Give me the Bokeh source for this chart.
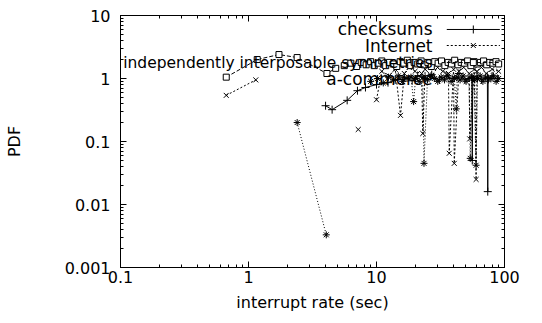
import math
from bokeh.plotting import figure
from bokeh.models import LogAxis, FixedTicker, CustomJSTickFormatter, Label
from bokeh.embed import file_html
from bokeh.resources import INLINE

nan = float("nan")

# ---- data ----
checksums_x = [4.0, 4.5, 5.9, 7.1, 8.2, 10.0, 12.3, 14.0, 16.5, 19.0, 21.0, 24.0, 27.0, 31.0,
               35.0, 39.0, 44.0, 49.0, 55.5, 56.0, 56.5, 61.0, 66.0, 73.5, 74.0, 74.5, 80.0, 88.0]
checksums_y = [0.37, 0.32, 0.45, 0.64, 0.72, 0.80, 0.86, 0.95, 1.05, 0.92, 1.1, 1.0, 1.15, 0.95,
               1.1, 1.0, 1.2, 0.95, 1.05, 0.05, 1.0, 1.1, 0.95, 1.05, 0.016, 1.0, 1.1, 1.0]

internet_x = [0.67, 1.14, nan, 7.2, nan, 10.0, 11.0, 12.5, 14.0, 15.4, 16.5, 18.0, 20.0, 22.5,
              23.0, 24.0, 27.0, 30.0, 33.0, 36.5, 37.0, 40.0, 40.5, 44.0, 48.0, 53.0, 53.5,
              58.0, 60.0, 61.0, 66.0, 72.0, 80.0, 90.0]
internet_y = [0.54, 0.95, nan, 0.155, nan, 0.46, 1.3, 1.1, 1.4, 0.26, 1.2, 1.5, 1.3, 1.2,
              0.134, 1.4, 1.1, 1.5, 1.3, 1.2, 0.065, 1.4, 0.045, 1.3, 1.5, 1.2, 0.11,
              1.4, 0.025, 1.3, 1.5, 1.2, 1.4, 1.3]

symmetries_x = [0.67, 1.17, 1.73, 2.4, 4.1, 4.8, 5.6, 6.3, 7.0, 7.6, 8.3, 9.0, 9.6, 10.3, 11.0,
                11.8, 12.6, 13.5, 14.4, 15.3, 16.3, 17.4, 18.5, 19.7, 21.0, 22.3, 23.7, 25.2,
                26.8, 28.5, 30.3, 32.2, 34.2, 36.3, 38.5, 40.8, 43.3, 45.9, 48.6, 51.5, 54.6,
                57.8, 61.2, 64.8, 68.6, 72.6, 76.8, 81.2, 85.8, 90.0]
symmetries_y = [1.05, 2.0, 2.4, 2.15, 1.2, 1.45, 1.6, 1.75, 1.55, 1.8, 1.65, 1.85, 1.6, 1.75, 1.9,
                1.6, 1.8, 1.7, 1.55, 1.85, 1.75, 1.95, 1.6, 1.8, 1.7, 1.9, 1.65, 1.8,
                1.55, 1.85, 1.75, 1.9, 1.6, 1.8, 1.7, 1.95, 1.65, 1.8, 1.75, 1.9, 1.6,
                1.85, 1.7, 1.8, 1.9, 1.65, 1.8, 1.75, 1.85, 1.7]

acommerce_x = [2.4, 4.05, nan, 9.0, 10.2, 11.3, 12.4, 13.6, 14.8, 16.0, 17.3, 18.6, 19.5, 20.2,
               21.6, 23.0, 23.5, 25.0, 26.6, 28.3, 30.1, 32.0, 34.0, 36.1, 38.3, 40.6, 42.0,
               42.6, 45.0, 47.5, 50.1, 52.8, 54.0, 55.6, 58.5, 60.0, 61.5, 64.6, 67.8, 71.2,
               74.7, 78.3, 82.0, 86.0, 90.0]
acommerce_y = [0.2, 0.0033, nan, 0.9, 1.0, 0.85, 1.05, 0.95, 1.1, 0.9, 1.0, 1.05, 0.43, 1.0,
               0.9, 1.05, 0.045, 0.95, 1.1, 1.0, 0.9, 1.05, 0.95, 1.1, 0.9, 1.0, 0.33,
               1.05, 0.95, 1.1, 0.9, 1.0, 0.054, 1.05, 0.95, 0.042, 1.0, 1.1, 0.9, 1.05,
               0.95, 1.0, 1.1, 0.9, 1.0]

series_names = ["checksums", "Internet", "independently interposable symmetries", "a-commerce"]
x_major = [0.1, 1, 10, 100]
y_major = [0.001, 0.01, 0.1, 1, 10]

FONT = "DejaVu Sans"
FS = "16px"
KEY_FS = "17px"
KEY_FS_LONG = "15.5px"   # keeps the long entry inside the frame (annotations are clipped to it)

def minors(majors):
    out = []
    for m in majors[:-1]:
        out += [m * k for k in range(2, 10)]
    return out

p = figure(width=542, height=323, x_axis_type="log", y_axis_type="log",
           x_range=(0.1, 100), y_range=(0.001, 10),
           output_backend="svg", toolbar_location=None,
           min_border_left=120, min_border_right=38, min_border_top=15, min_border_bottom=56)
p.grid.visible = False
p.outline_line_color = "black"
p.background_fill_color = "white"
p.border_fill_color = "white"

fmt = CustomJSTickFormatter(code="return String(parseFloat(tick.toPrecision(3)));")
blank = CustomJSTickFormatter(code="return '';")

def style_axis(ax, labels=True):
    ax.axis_line_color = "black"
    ax.major_tick_in = 6
    ax.major_tick_out = 0
    ax.minor_tick_in = 3
    ax.minor_tick_out = 0
    ax.major_tick_line_color = "black"
    ax.minor_tick_line_color = "black"
    if labels:
        ax.formatter = fmt
        ax.major_label_text_font = FONT
        ax.major_label_text_font_size = FS
        ax.major_label_text_color = "black"
        ax.axis_label_text_font = FONT
        ax.axis_label_text_font_size = FS
        ax.axis_label_text_font_style = "normal"
        ax.axis_label_text_color = "black"
    else:
        ax.formatter = blank
        ax.major_label_text_font_size = "0px"
        ax.major_label_standoff = 0

p.xaxis.ticker = FixedTicker(ticks=x_major, minor_ticks=minors(x_major))
p.yaxis.ticker = FixedTicker(ticks=y_major, minor_ticks=minors(y_major))
style_axis(p.xaxis[0])
style_axis(p.yaxis[0])
p.xaxis.axis_label = "interrupt rate (sec)"
p.yaxis.axis_label = "PDF"
p.xaxis.major_label_standoff = 3
p.xaxis.axis_label_standoff = 7
p.yaxis.major_label_standoff = 10
p.yaxis.axis_label_standoff = 38

top = LogAxis(ticker=FixedTicker(ticks=x_major, minor_ticks=minors(x_major)))
style_axis(top, labels=False)
p.add_layout(top, "above")
right = LogAxis(ticker=FixedTicker(ticks=y_major, minor_ticks=minors(y_major)))
style_axis(right, labels=False)
p.add_layout(right, "right")

# ---- series ----
styles = [
    (checksums_x, checksums_y, "solid", "cross", 8, "black"),
    (internet_x, internet_y, "2 2", "x", 7, "black"),
    (symmetries_x, symmetries_y, "4 2", "square", 6, "white"),
    (acommerce_x, acommerce_y, "1 2", "asterisk", 7, "black"),
]
for xs, ys, dash, marker, size, fill in styles:
    p.line(xs, ys, line_color="black", line_width=1, line_dash=dash)
    px = [a for a, b in zip(xs, ys) if not (math.isnan(a) or math.isnan(b))]
    py = [b for a, b in zip(xs, ys) if not (math.isnan(a) or math.isnan(b))]
    p.scatter(px, py, marker=marker, size=size, line_color="black", fill_color=fill, line_width=1)

# ---- key (gnuplot style: text right-aligned, sample line to its right) ----
key_text_x = 27.4
key_line = (35.4, 92.0)
key_rows = [6.0, 3.34, 1.79, 1.0]
for name, y, (xs, ys, dash, marker, size, fill) in zip(series_names, key_rows, styles):
    fs = KEY_FS_LONG if len(name) > 20 else KEY_FS
    p.add_layout(Label(x=key_text_x, y=y, text=name, text_align="right", text_baseline="middle",
                       text_font=FONT, text_font_size=fs, text_color="black"))
    p.line([key_line[0], key_line[1]], [y, y], line_color="black", line_width=1, line_dash=dash)
    p.scatter([math.sqrt(key_line[0] * key_line[1])], [y], marker=marker, size=size,
              line_color="black", fill_color=fill)

open("out.html", "w").write(file_html(p, INLINE))
